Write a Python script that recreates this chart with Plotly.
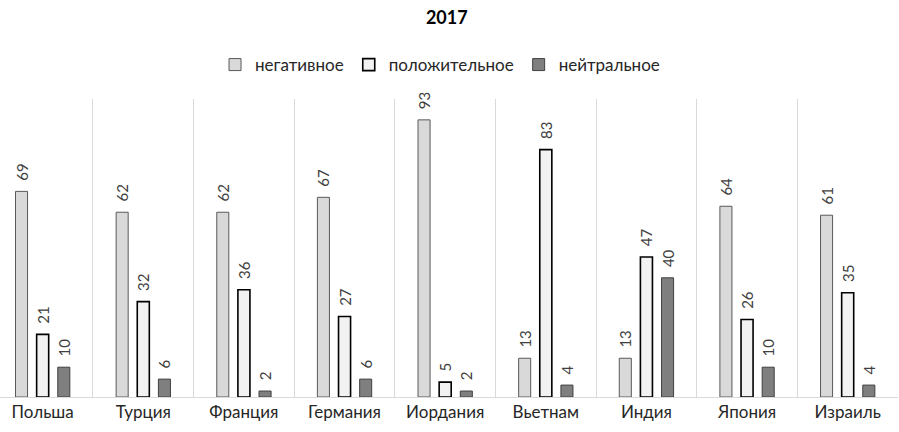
import plotly.graph_objects as go

categories = ["Польша", "Турция", "Франция", "Германия", "Иордания", "Вьетнам", "Индия", "Япония", "Израиль"]
negative = [69, 62, 62, 67, 93, 13, 13, 64, 61]
positive = [21, 32, 36, 27, 5, 83, 47, 26, 35]
neutral = [10, 6, 2, 6, 2, 4, 40, 10, 4]

FONT = "Lato, Calibri, Carlito, sans-serif"

series = [
    ("негативное", negative, "#d9d9d9", "#595959", 1.0),
    ("положительное", positive, "#f2f2f2", "#000000", 1.6),
    ("нейтральное", neutral, "#7f7f7f", "#404040", 1.0),
]

fig = go.Figure()
for name, vals, fill, line, lw in series:
    fig.add_trace(go.Bar(
        name=name, x=categories, y=vals,
        marker=dict(color=fill, line=dict(color=line, width=lw)),
        text=["\u00a0\u00a0" + str(v) for v in vals], textposition="outside", textangle=-90,
        outsidetextfont=dict(family=FONT, size=15, color="#404040"),
        constraintext="none", cliponaxis=False, hoverinfo="skip",
    ))

fig.update_layout(
    width=899, height=432,
    margin=dict(l=0, r=1, t=99, b=35),
    paper_bgcolor="white", plot_bgcolor="white",
    barmode="group", bargap=0.37, bargroupgap=0.43,
    font=dict(family=FONT, size=17, color="#262626"),
    title=dict(text="<b>2017</b>", x=0.497, xanchor="center", y=0.96, yanchor="middle",
               font=dict(family=FONT, size=18, color="#000000")),
    legend=dict(orientation="h", x=0.49, xanchor="center", y=1.114, yanchor="middle",
                font=dict(family=FONT, size=17, color="#262626"),
                itemwidth=30, traceorder="normal"),
    showlegend=True,
)
fig.update_xaxes(
    type="category", range=[-0.424, 8.5], autorange=False, tickson="boundaries",
    showgrid=True, gridcolor="#d9d9d9", gridwidth=1,
    showline=True, linecolor="#d9d9d9", linewidth=1,
    ticks="", tickfont=dict(family=FONT, size=17, color="#262626"),
    zeroline=False,
)
fig.update_yaxes(
    range=[0, 100], showgrid=False, showticklabels=False, zeroline=False, showline=False,
)

fig.write_html("out.html", config={"displayModeBar": False},
               post_script="document.body.style.margin='0';document.body.style.overflow='hidden';")
